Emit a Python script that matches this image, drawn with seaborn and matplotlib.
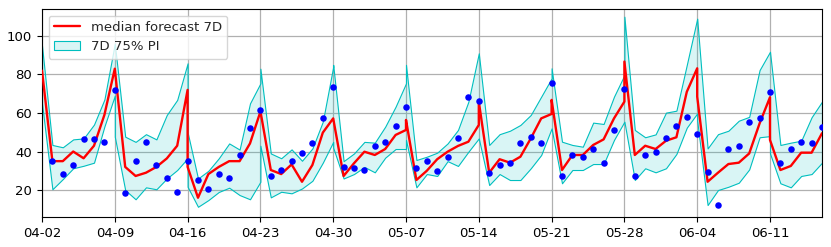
import numpy as np
import pandas as pd
import matplotlib
matplotlib.use("Agg")
import matplotlib.pyplot as plt
import matplotlib.dates as mdates
import seaborn as sns

# ---- data -------------------------------------------------------------
# weekly forecast origins (each forecast covers origin .. origin+7 days)
seg_starts = ["2020-04-02", "2020-04-09", "2020-04-16", "2020-04-23", "2020-04-30",
              "2020-05-07", "2020-05-14", "2020-05-21", "2020-05-28", "2020-06-04",
              "2020-06-11"]
seg_lengths = [8, 8, 8, 8, 8, 8, 8, 8, 8, 8, 6]

median_fc = [
    [82, 35, 35, 40, 36.5, 43, 59, 83],
    [83, 32, 27.3, 29, 32, 36.4, 43, 72],
    [32, 16, 28.3, 32, 35, 35, 44.2, 60.7],
    [61, 30.4, 28.3, 33.3, 24.3, 33, 49.8, 57.2],
    [57.2, 27.3, 33.9, 39.9, 38.2, 41.3, 48.6, 51.2],
    [56.4, 25.2, 30, 36, 39.9, 42.9, 45.1, 53.8],
    [65.9, 29, 36, 34.2, 37.3, 46.8, 57.2, 59.5],
    [66.8, 30.4, 38.2, 38.2, 43.4, 46.3, 57.2, 65.9],
    [86.7, 38.2, 43, 41.3, 45.6, 47.4, 71, 83.2],
    [68.5, 24.3, 29, 33.5, 34.2, 39, 54.6, 68.2],
    [46, 30.4, 32.5, 39.4, 39.4, 49.5],
]
lower_fc = [
    [65, 20.4, 25.7, 31.3, 32.6, 34.2, 53, 69],
    [47.7, 20, 15.2, 21.4, 20.4, 26, 30.4, 36.5],
    [21.7, 11.3, 14.8, 19, 21.2, 17.4, 15.2, 24.3],
    [43, 16.2, 19.1, 18.3, 20.8, 24.8, 34.2, 45],
    [42, 26, 28.3, 32, 29.2, 36.8, 41.3, 41.3],
    [46, 21.4, 28.3, 27.3, 35, 32.5, 39.9, 46.8],
    [46.8, 22.6, 28.3, 25.2, 25.2, 31.3, 38.2, 52],
    [52, 23.5, 30.4, 30.4, 33.5, 33.5, 46, 55.5],
    [55.5, 25.2, 31.3, 29.2, 31.3, 38.7, 52.4, 59.8],
    [56, 12.2, 20, 21.7, 23.8, 30.7, 47.4, 48],
    [39, 23.5, 21.4, 27.3, 28.3, 34.2],
]
upper_fc = [
    [95, 43.4, 42.2, 46.3, 46.8, 54, 67, 96],
    [96, 47.7, 45, 49, 46.3, 59, 66.8, 85.8],
    [50, 26, 30, 36.5, 44.2, 41, 65, 75.4],
    [83, 39, 36.5, 41.1, 35.2, 41.6, 55.5, 84],
    [85, 35, 39, 45, 44.6, 52.9, 63.3, 75.4],
    [85, 35.6, 37.3, 39.4, 44.2, 51.2, 65.9, 91],
    [91, 43.4, 49, 50.8, 53.8, 59, 68.5, 78],
    [83.2, 45.1, 43.4, 42.5, 55, 54.3, 68.5, 79.7],
    [110, 51.2, 47.4, 48.9, 60.2, 61.2, 85, 109],
    [109, 41.6, 49, 50.8, 56, 58, 82.3, 91.8],
    [91.8, 43.4, 44.6, 45.6, 57.8, 65.9],
]

obs_start = "2020-04-03"
observed = [35, 28.3, 33, 46.3, 46.3, 45, 72, 18.3, 35.2, 45, 33, 26, 19.1, 35,
            25.2, 20.4, 28.3, 26, 38.2, 52.4, 61.6, 27.3, 30.4, 35.2, 39, 44.2,
            57.2, 73.3, 32.1, 31.3, 30.4, 43, 45, 53.2, 63.3, 31.3, 35.2, 30,
            37.3, 47.2, 68.2, 66.2, 29, 33, 34.2, 44.2, 47.4, 44.2, 75.4, 27.3,
            38.2, 37, 41.3, 34.2, 51.2, 72.3, 27.3, 38.2, 39.9, 47.2, 53.2, 58,
            49, 29.2, 12.2, 41.3, 43, 55.2, 57.2, 71, 34.2, 41.3, 45.1, 44.2, 52.6]

# ---- build tables -----------------------------------------------------
fc_dates = []
for s, n in zip(seg_starts, seg_lengths):
    fc_dates.extend(pd.date_range(s, periods=n, freq="D"))
fc = pd.DataFrame({
    "date": fc_dates,
    "median": [v for seg in median_fc for v in seg],
    "lower": [v for seg in lower_fc for v in seg],
    "upper": [v for seg in upper_fc for v in seg],
})
obs = pd.DataFrame({"date": pd.date_range(obs_start, periods=len(observed), freq="D"),
                    "value": observed})

# ---- plot -------------------------------------------------------------
sns.set_style("whitegrid", {"axes.edgecolor": "black", "grid.color": "#b0b0b0",
                            "xtick.bottom": True, "ytick.left": True})
plt.rcParams["font.family"] = ["DejaVu Sans"]
plt.rcParams["font.size"] = 9

fig, ax = plt.subplots(figsize=(8.31, 2.47), dpi=100)
fig.subplots_adjust(left=42 / 831, right=822 / 831, top=1 - 9 / 247, bottom=1 - 217 / 247)

ax.fill_between(fc["date"], fc["lower"], fc["upper"], facecolor=(0.0, 0.75, 0.75, 0.15),
                edgecolor="c", linewidth=0.8, label="7D 75% PI", zorder=2)
sns.lineplot(data=fc, x="date", y="median", estimator=None, sort=False, color="red",
             linewidth=1.7, ax=ax, label="median forecast 7D", zorder=3)
sns.scatterplot(data=obs, x="date", y="value", color="blue", s=22, linewidth=0,
                ax=ax, zorder=4, legend=False)

ax.set_xlim(pd.Timestamp("2020-04-02"), pd.Timestamp("2020-06-16"))
ax.set_ylim(6, 114)
ax.set_xticks(pd.to_datetime(seg_starts))
ax.xaxis.set_major_formatter(mdates.DateFormatter("%m-%d"))
ax.set_yticks([20, 40, 60, 80, 100])
ax.set_xlabel("")
ax.set_ylabel("")
ax.grid(True, color="#b0b0b0", linewidth=0.9)
ax.tick_params(labelsize=9.5, length=3.5, width=0.8, colors="black")
for sp in ax.spines.values():
    sp.set_linewidth(0.8)
    sp.set_color("black")

h, l = ax.get_legend_handles_labels()
order = [l.index("median forecast 7D"), l.index("7D 75% PI")]
ax.legend([h[i] for i in order], [l[i] for i in order], loc="upper left", fontsize=9.5)

fig.savefig("out.png", dpi=100)
